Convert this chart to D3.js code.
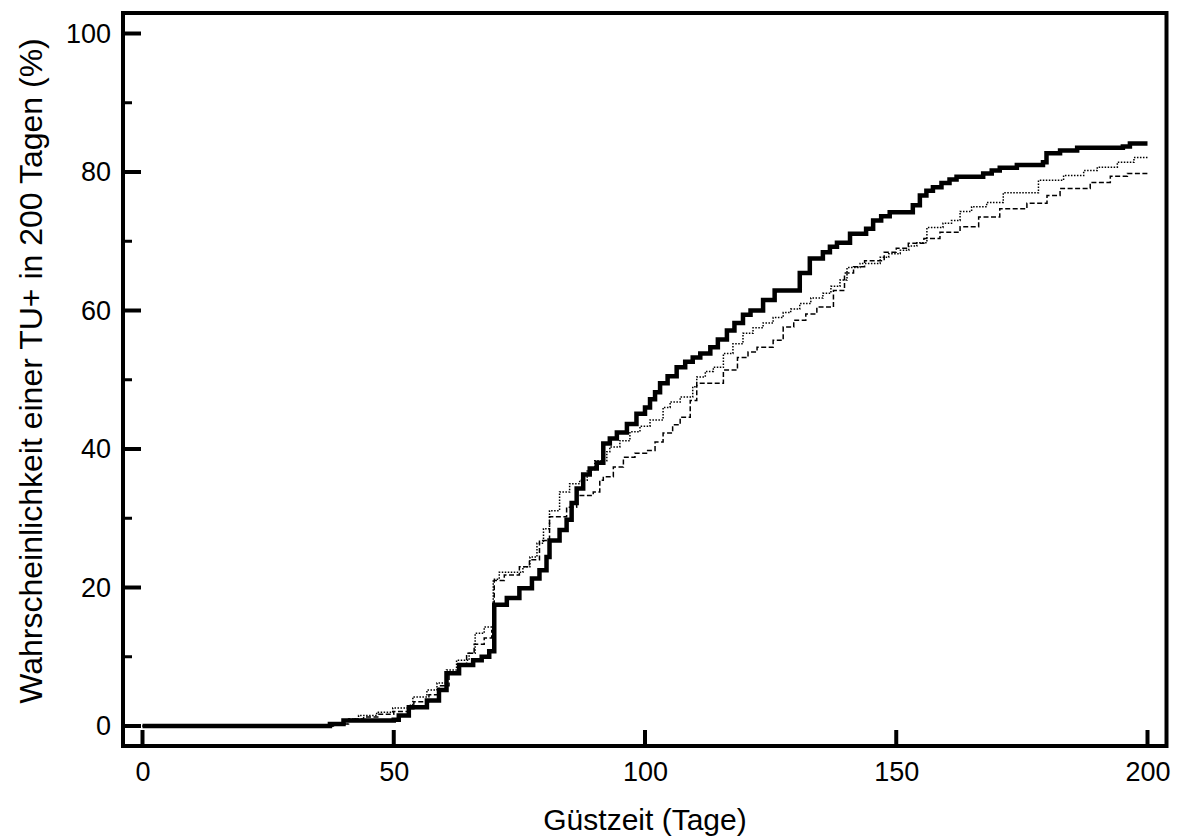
<!DOCTYPE html>
<html>
<head>
<meta charset="utf-8">
<script src="https://cdn.jsdelivr.net/npm/d3@7"></script>
<style>
  html, body { margin: 0; padding: 0; background: #fff; }
  svg { display: block; }
  text { font-family: Arial, "Liberation Sans", sans-serif; fill: #000; }
</style>
</head>
<body>
<svg id="chart" width="1183" height="838"></svg>
<script>
// ---- data (days, cumulative probability %) ----
const solidDays = [0,37.3,40,50,51,53,56.6,59,60.5,63,65.8,67.5,69,70,72.5,75,77.5,79,80.4,81,83,84.4,85.4,86.4,87.7,89,90.4,91.7,93,94.4,96.4,98.3,100,101,102,103,104.5,106.3,108,109.5,111,113,114.5,116.3,117.8,119.5,121,123.5,125.8,130.8,132.8,135.4,136.8,138.2,140.8,144,145.4,147,148.7,153.3,154.7,156,157.3,159,160.6,162,167.3,169,170.6,174,179.2,179.9,182.6,186,195.1,196.5,200];
const solidVals = [0,0.3,0.8,0.9,1.5,2.7,3.7,5.2,7.6,8.8,9.5,10,10.8,17.5,18.5,19.9,21.3,22.5,24.4,26.8,28.3,29.8,32.2,34.3,36.3,37.2,38,40.8,41.5,42.4,43.6,45.1,46,47.2,48.2,49.5,50.5,51.8,52.6,53.2,53.8,54.7,55.8,57.1,58.2,59.4,60,61.5,62.9,65.4,67.5,68.4,69.2,69.8,71.1,71.8,73,73.6,74.2,75.2,76.6,77.3,77.8,78.4,78.9,79.3,79.8,80.2,80.6,81,81.4,82.7,83.1,83.5,83.7,84.1,84.1];

const dottedDays = [0,38,41,43,46.6,49.8,53,53.8,56.6,58.6,60.5,62.5,65,66.2,68,69.8,71,75.7,77.1,78.5,79.8,81,83,85,87,88.5,90,92.4,93,95,97,99,101,103.6,105,107,109.5,110.3,112,113.6,115.6,117.5,119.5,121.5,123.5,125.5,127.5,129,130.8,133,135.4,137,138.8,140.2,142.8,146.8,148.5,150.8,152.5,154.1,156.1,159.3,161,162.7,165,168,171.3,178.3,183.3,187.3,190,194,197.3,200];
const dottedVals = [0,0.3,1,1.5,2,2.6,3,4.2,5.2,6.2,8.1,9.5,10.5,13.4,14.3,21.2,22.2,23,24.4,26.4,28.5,31.1,33.8,35,35.5,37,38.3,39.6,40.3,41.2,42.5,43.3,44.2,46,46.8,47.5,49,50.4,51.2,51.8,53.8,55.2,56.7,57.5,58.2,59,59.7,60.2,61,61.8,62.5,63.5,64.4,66.2,66.8,67.7,68.2,68.7,69.3,69.8,72,72.6,73,74.3,75,75.6,77,78.8,79.5,80.2,80.7,81.4,82.1,82.1];

const dashedDays = [0,38,41,44,47,50,53,54,57,59,61,63,64.5,66,68,69.5,70,72,75,77,79,81,84.4,86.4,89.7,91,91.7,93.7,95.7,98,100.3,102,103.6,105.5,107,109,110.3,113.6,115.6,118.4,120.5,122.3,125.5,127.5,129.6,132,134.2,137.5,139.7,141.5,143.7,147.6,150,152.4,155.5,158.7,162.7,166.4,170.6,176,180,182.6,188.6,192.6,196,200];
const dashedVals = [0,0.3,1,1.3,1.7,2.1,2.5,3.5,4.5,5.8,7.5,8.8,10.5,11.8,12.7,13.8,21,21.8,23,24,26.8,30.2,31.6,33.3,33.8,35.5,36,37.4,38.8,39.4,39.8,41,42.3,43.5,44.6,47,49.5,49.5,51.4,53.2,54,54.7,55.7,57.6,58.6,59.5,60.5,62.9,65.4,66.3,67.2,68.4,69,69.7,70.4,71.3,72.1,73.5,74.7,75.5,76.6,77.6,78.5,79.4,79.8,79.8];

const xTickValues = [0, 50, 100, 150, 200];
const yTickValues = [0, 20, 40, 60, 80, 100];
const yMinorTicks = [10, 30, 50, 70, 90];
const xTitle = "Güstzeit (Tage)";
const yTitle = "Wahrscheinlichkeit einer TU+ in 200 Tagen (%)";

// ---- layout ----
const svg = d3.select("#chart");
const x = d3.scaleLinear().domain([0, 200]).range([142.5, 1147.5]);
const y = d3.scaleLinear().domain([0, 100]).range([726, 33.5]);
const frame = { left: 123, right: 1166.5, top: 13, bottom: 746 };

const line = d3.line().x(d => x(d[0])).y(d => y(d[1])).curve(d3.curveStepAfter);
const zip = (a, b) => a.map((v, i) => [v, b[i]]);

// curves
svg.append("path").datum(zip(dashedDays, dashedVals)).attr("d", line)
  .attr("fill", "none").attr("stroke", "#000").attr("stroke-width", 1.5)
  .attr("stroke-dasharray", "5,2.5");
svg.append("path").datum(zip(dottedDays, dottedVals)).attr("d", line)
  .attr("fill", "none").attr("stroke", "#000").attr("stroke-width", 1.5)
  .attr("stroke-dasharray", "1.5,1.5");
svg.append("path").datum(zip(solidDays, solidVals)).attr("d", line)
  .attr("fill", "none").attr("stroke", "#000").attr("stroke-width", 4.5)
  .attr("stroke-linejoin", "miter");

// frame
svg.append("rect")
  .attr("x", frame.left).attr("y", frame.top)
  .attr("width", frame.right - frame.left).attr("height", frame.bottom - frame.top)
  .attr("fill", "none").attr("stroke", "#000").attr("stroke-width", 4);

// y axis
const yAxis = d3.axisLeft(y).tickValues(yTickValues).tickSize(0).tickPadding(12);
const gy = svg.append("g").attr("transform", `translate(${frame.left},0)`).call(yAxis);
gy.select(".domain").remove();
gy.selectAll("text").style("font-size", "27px").style("font-family", "Arial, 'Liberation Sans', sans-serif");
svg.selectAll(".ymaj").data(yTickValues).enter().append("line")
  .attr("x1", frame.left).attr("x2", frame.left + 18)
  .attr("y1", d => y(d)).attr("y2", d => y(d))
  .attr("stroke", "#000").attr("stroke-width", 4);
svg.selectAll(".ymin").data(yMinorTicks).enter().append("line")
  .attr("x1", frame.left).attr("x2", frame.left + 9)
  .attr("y1", d => y(d)).attr("y2", d => y(d))
  .attr("stroke", "#000").attr("stroke-width", 3);

// x axis
const xAxis = d3.axisBottom(x).tickValues(xTickValues).tickSize(0).tickPadding(16);
const gx = svg.append("g").attr("transform", `translate(0,${frame.bottom})`).call(xAxis);
gx.select(".domain").remove();
gx.selectAll("text").style("font-size", "27px").style("font-family", "Arial, 'Liberation Sans', sans-serif");
svg.selectAll(".xmaj").data(xTickValues).enter().append("line")
  .attr("x1", d => x(d)).attr("x2", d => x(d))
  .attr("y1", frame.bottom).attr("y2", frame.bottom - 16)
  .attr("stroke", "#000").attr("stroke-width", 4);

// titles
svg.append("text").attr("x", 645).attr("y", 830).attr("text-anchor", "middle")
  .style("font-size", "30px").text(xTitle);
svg.append("text").attr("transform", "translate(42,371) rotate(-90)").attr("text-anchor", "middle")
  .style("font-size", "32px").text(yTitle);
</script>
</body>
</html>
